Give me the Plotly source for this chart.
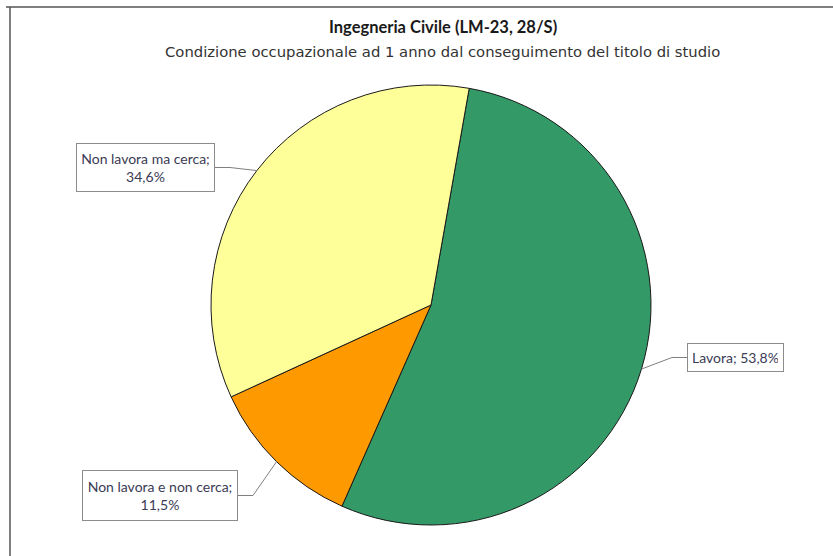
import math
import plotly.graph_objects as go

categories = ["Lavora", "Non lavora e non cerca", "Non lavora ma cerca"]
values = [53.8, 11.5, 34.6]
value_labels = ["53,8%", "11,5%", "34,6%"]
colors = ["#339966", "#FF9900", "#FFFF99"]

title = "Ingegneria Civile (LM-23, 28/S)"
subtitle = "Condizione occupazionale ad 1 anno dal conseguimento del titolo di studio"

W, H = 833, 556
cx, cy, r = 431, 305, 220  # pixel centre / radius of pie
rotation = 10

dom_x = [(cx - r) / W, (cx + r) / W]
dom_y = [1 - (cy + r) / H, 1 - (cy - r) / H]

fig = go.Figure(go.Pie(
    labels=categories, values=values, sort=False, direction="clockwise",
    rotation=rotation, marker=dict(colors=colors, line=dict(color="#1a1a1a", width=1)),
    textinfo="none", hoverinfo="label+percent", showlegend=False,
    domain=dict(x=dom_x, y=dom_y),
))

label_text = [
    "Lavora; " + value_labels[0],
    "Non lavora e non cerca;<br>" + value_labels[1],
    "Non lavora ma cerca;<br>" + value_labels[2],
]
# box centre (px), box outer width/height
box_centres = [(735.5, 357.5), (160, 495.5), (145.5, 167.5)]
box_sizes = [(97, 29), (156, 51), (139, 49)]
pad = 5

total = sum(values)
cum = 0
for i, v in enumerate(values):
    mid = rotation + 360 * (cum + v / 2) / total
    cum += v
    a = math.radians(mid)
    px = cx + r * math.sin(a)
    py = cy - r * math.cos(a)
    bx, by = box_centres[i]
    bw, bh = box_sizes[i]
    fig.add_annotation(
        x=bx / W, y=1 - by / H, xref="paper", yref="paper", showarrow=False,
        xanchor="center", yanchor="middle",
        text=label_text[i], bordercolor="#8c8c8c", borderwidth=1, borderpad=pad,
        bgcolor="white", width=bw - 2 * pad - 2, height=bh - 2 * pad - 2, align="center",
        valign="middle", font=dict(family="Lato", size=14, color="#3b3b55"),
    )
    # leader line: short horizontal stub from the box, then to slice edge
    side = 1 if px > bx else -1
    ex = bx + side * bw / 2
    kx = ex + side * 15
    path = "M {} {} L {} {} L {} {}".format(ex / W, 1 - by / H, kx / W, 1 - by / H, px / W, 1 - py / H)
    fig.add_shape(type="path", xref="paper", yref="paper", path=path,
                  line=dict(color="#7f7f7f", width=1))

fig.add_annotation(x=443 / W, y=1 - 27 / H, xref="paper", yref="paper", showarrow=False,
                   text="<b>" + title + "</b>", xanchor="center", yanchor="middle",
                   font=dict(family="Lato", size=16.5, color="#1a1a1a"))
fig.add_annotation(x=443 / W, y=1 - 52 / H, xref="paper", yref="paper", showarrow=False,
                   text=subtitle, xanchor="center", yanchor="middle",
                   font=dict(family="DejaVu Sans", size=14.8, color="#333333"))

# chart frame: top and left edges
fig.add_shape(type="line", xref="paper", yref="paper",
              x0=6 / W, x1=1, y0=1 - 7 / H, y1=1 - 7 / H,
              line=dict(color="#555555", width=1.5))
fig.add_shape(type="line", xref="paper", yref="paper",
              x0=10 / W, x1=10 / W, y0=0, y1=1 - 7 / H,
              line=dict(color="#555555", width=1.5))

fig.update_layout(width=W, height=H, margin=dict(l=0, r=0, t=0, b=0),
                  paper_bgcolor="white", plot_bgcolor="white")
fig.write_html("out.html", config={"displayModeBar": False},
               post_script="document.body.style.margin='0';document.body.style.overflow='hidden';")
